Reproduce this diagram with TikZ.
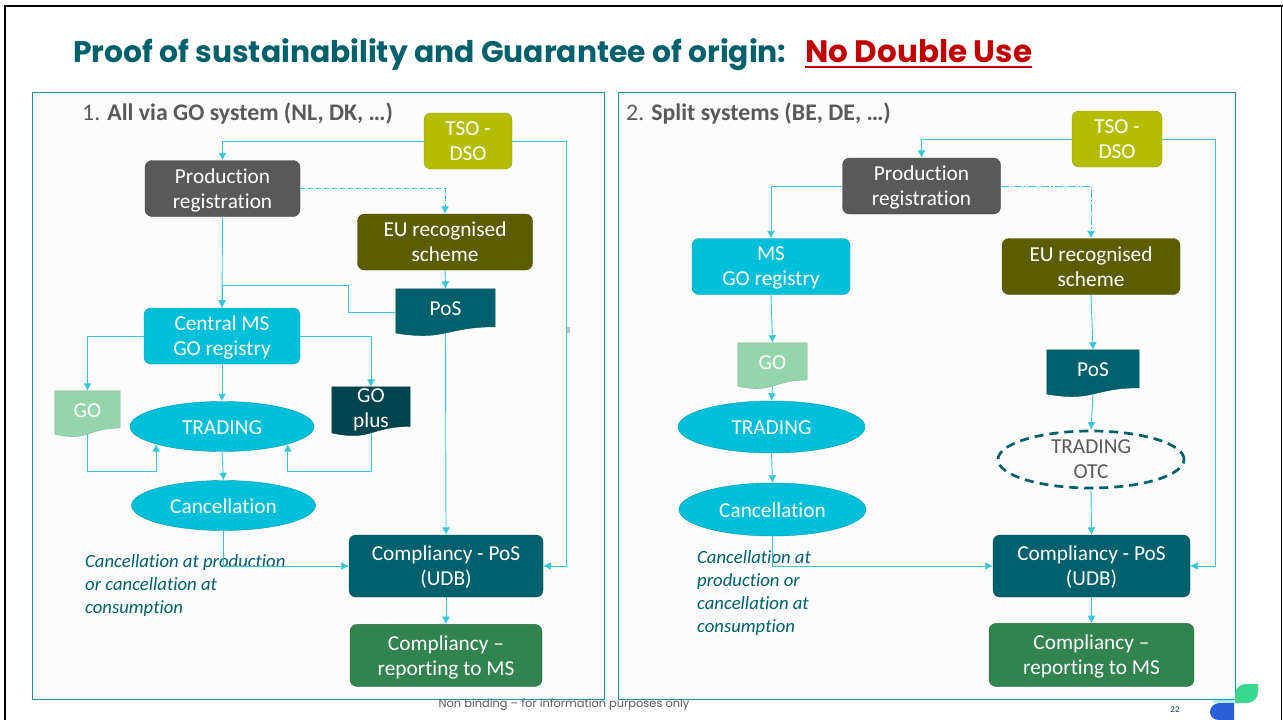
\documentclass[tikz,border=0pt]{standalone}
\usepackage{fontspec}
\setmainfont{Carlito}[Ligatures={TeX,NoCommon}]
\newfontfamily\titlefont{Poppins}
\usepackage{xcolor}
\usepackage{tikz}
\usetikzlibrary{arrows.meta, positioning, shapes.geometric}
\definecolor{wire}{HTML}{35C6DB}
\definecolor{tealdark}{HTML}{00606B}
\definecolor{cyanbox}{HTML}{00BFD8}
\definecolor{greybox}{HTML}{595959}
\definecolor{limebox}{HTML}{B5BD00}
\definecolor{olivebox}{HTML}{5C5C00}
\definecolor{mintsheet}{HTML}{94D5AB}
\definecolor{deepsheet}{HTML}{00444D}
\definecolor{greenbox}{HTML}{31834F}
\definecolor{panelline}{HTML}{1496A8}
\definecolor{titlered}{HTML}{C00000}
\definecolor{leafgreen}{HTML}{3AD78F}
\definecolor{leafblue}{HTML}{2B5FD9}

\makeatletter
\newdimen\sheetl \newdimen\sheetb \newdimen\sheetw \newdimen\sheeth
\pgfdeclareshape{docsheet}{
\inheritsavedanchors[from=rectangle]
\inheritanchorborder[from=rectangle]
\inheritanchor[from=rectangle]{center}
\inheritanchor[from=rectangle]{north}
\inheritanchor[from=rectangle]{south}
\inheritanchor[from=rectangle]{east}
\inheritanchor[from=rectangle]{west}
\anchor{text}{\pgfpoint{0pt}{3.5pt}}
\backgroundpath{
\southwest \sheetl=\pgf@x \sheetb=\pgf@y
\northeast \sheetw=\pgf@x \sheeth=\pgf@y
\advance\sheetw by -\sheetl \advance\sheeth by -\sheetb
\pgfpathmoveto{\pgfpoint{\sheetl}{\sheetb+\sheeth}}
\pgfpathlineto{\pgfpoint{\sheetl+\sheetw}{\sheetb+\sheeth}}
\pgfpathlineto{\pgfpoint{\sheetl+\sheetw}{\sheetb+0.198*\sheeth}}
\pgfpathcurveto{\pgfpoint{\sheetl+0.5*\sheetw}{\sheetb+0.198*\sheeth}}{\pgfpoint{\sheetl+0.5*\sheetw}{\sheetb-0.107*\sheeth}}{\pgfpoint{\sheetl}{\sheetb+0.066*\sheeth}}
\pgfpathclose}
}
\makeatother

\begin{document}
\begin{tikzpicture}[
x=1pt, y=-1pt,
box/.style={draw=#1!80!black,
fill=#1,
rectangle,
rounded corners=7pt,
minimum height=56pt,
inner sep=0pt,
text=white,
text depth=0pt,
font=\fontsize{21.3}{25}\selectfont,
align=center},
blob/.style={draw=cyanbox!80!black,
fill=cyanbox,
ellipse,
inner sep=0pt,
minimum height=50pt,
text=white,
text height=16pt,
font=\fontsize{21.3}{25}\selectfont,
align=center},
sheet/.style={draw=#1!85!black,
fill=#1,
shape=docsheet,
inner sep=0pt,
text=white,
font=\fontsize{21.3}{25}\selectfont,
align=center},
panel/.style={draw=panelline,
fill=white!99!black,
rectangle,
inner sep=0pt,
line width=1pt},
heading/.style={text=greybox, anchor=west, inner sep=0pt, font=\fontsize{23.8}{28}\selectfont},
note/.style={text=tealdark, anchor=north west, align=left, inner sep=0pt, font=\fontsize{18.7}{22.8}\selectfont\itshape},
banner/.style={anchor=base west, inner sep=0pt, font=\titlefont\bfseries\fontsize{#1}{34}\selectfont},
arrow/.style={-{Latex[length=7.5pt, width=8pt]}, draw=wire, line width=0.9pt}
]

\useasboundingbox (0,0) rectangle (1283,720);
\fill[white] (0,0) rectangle (1283,720);
\draw[line width=2pt] (5,720) -- (5,6) -- (1283,6);
\draw[line width=0.7pt] (1281,6) -- (1281,720);

\node[banner=29.8, text=tealdark] (title) at (73,62) {Proof of sustainability and Guarantee of origin:};
\node[banner=31, text=titlered] (nodouble) at (805,62) {No Double Use};
\draw[titlered, line width=2.2pt] ([yshift=-5pt]nodouble.base west) -- ([yshift=-5pt]nodouble.base east);

\node[panel, minimum width=572pt, minimum height=607pt] (panelA) at (318,395.5) {};
\node[panel, minimum width=617pt, minimum height=607pt] (panelB) at (926.5,395.5) {};

\node[heading] (headA) at (82,113.5) {1. \textbf{All via GO system (NL, DK, …)}};
\node[heading] (headB) at (626,113.5) {2. \textbf{Split systems (BE, DE, …)}};

\node[box=greybox, minimum width=155pt] (prodA) at (222.5,188.5) {Production\\registration};
\node[box=limebox, minimum width=88pt] (tsoA) at (468,141) {TSO -\\DSO};
\node[box=olivebox, minimum width=175pt] (euA) at (445,242) {EU recognised\\scheme};
\node[sheet=tealdark, minimum width=99pt, minimum height=47pt] (posA) at (445.5,312.5) {PoS};
\node[box=cyanbox, minimum width=156pt] (centralA) at (222,336) {Central MS\\GO registry};
\node[sheet=mintsheet, minimum width=65pt, minimum height=46pt] (goA) at (87.5,414) {GO};
\node[sheet=deepsheet, minimum width=78pt, minimum height=49pt, text depth=0pt] (goplusA) at (371,411.5) {GO\\plus};
\node[blob, minimum width=184pt] (tradA) at (222,426.5) {TRADING};
\node[blob, minimum width=184pt] (cancA) at (223.5,505.5) {Cancellation};
\node[box=tealdark, minimum width=194pt, minimum height=62pt] (compA) at (446,566) {Compliancy - PoS\\(UDB)};
\node[box=greenbox, minimum width=192pt, minimum height=62pt, below=27pt of compA] (repA) {Compliancy --\\reporting to MS};
\node[note] (noteA) at (85,554.5) {Cancellation at production\\or cancellation at\\consumption};

\coordinate (jogA) at (348,285);
\coordinate (railA) at (566.5,350);
\coordinate (loopgoA) at (87.5,471);
\coordinate (loopplusA) at (371,471);

\draw[arrow] (tsoA.west) -| (prodA.north);
\draw[arrow, dash pattern=on 5pt off 3pt] (prodA.east) -| (euA.north);
\draw[arrow] (prodA.south) -- (centralA.north);
\draw[arrow] (euA.south) -- (posA.north);
\draw[arrow] (posA.west) -| (jogA) -| (centralA.north);
\draw[arrow] (centralA.west) -| (goA.north);
\draw[arrow] (centralA.east) -| (goplusA.north);
\draw[arrow] (centralA.south) -- (tradA.north);
\draw[arrow] ([yshift=3pt]goA.south) -- (loopgoA) -| (tradA.195);
\draw[arrow] ([yshift=3pt]goplusA.south) -- (loopplusA) -| (tradA.345);
\draw[arrow] (tradA.south) -- (cancA.north);
\draw[arrow] (cancA.south) |- (compA.west);
\draw[arrow] ([yshift=3pt]posA.south) -- (compA.north);
\draw[arrow] (tsoA.east) -| (railA) |- (compA.east);
\draw[arrow] (compA.south) -- (repA.north);
\fill[black!25] (567,327) rectangle (570,333);

\node[box=greybox, minimum width=158pt] (prodB) at (921.5,186) {Production\\registration};
\node[box=limebox, minimum width=90pt] (tsoB) at (1117,139) {TSO -\\DSO};
\node[box=cyanbox, minimum width=158pt] (msB) at (771,266.5) {MS\\GO registry};
\node[box=olivebox, minimum width=178pt] (euB) at (1091,266.5) {EU recognised\\scheme};
\node[sheet=mintsheet, minimum width=69pt, minimum height=46pt] (goB) at (772.5,366) {GO};
\node[sheet=tealdark, minimum width=92pt, minimum height=47pt] (posB) at (1093,373.5) {PoS};
\node[blob, minimum width=187pt, minimum height=52pt] (tradB) at (771.5,427) {TRADING};
\node[blob, minimum width=187pt, minimum height=53pt] (cancB) at (772.5,509.5) {Cancellation};
\node[draw=tealdark, ellipse, line width=2.7pt, dash pattern=on 9pt off 6pt, minimum width=186pt, minimum height=57pt, inner sep=0pt, align=center, text=greybox, text depth=0pt, font=\fontsize{21.3}{25}\selectfont] (otcB) at (1091,459.5) {TRADING\\OTC};
\node[box=tealdark, minimum width=197pt, minimum height=62pt] (compB) at (1091.5,566) {Compliancy - PoS\\(UDB)};
\node[box=greenbox, minimum width=205pt, minimum height=63pt, below=26pt of compB] (repB) {Compliancy --\\reporting to MS};
\node[note] (noteB) at (697,550.5) {Cancellation at\\production or\\cancellation at\\consumption};

\coordinate (railB) at (1215,350);

\draw[arrow] (tsoB.west) -| (prodB.north);
\draw[arrow] (prodB.west) -| (msB.north);
\draw[arrow, dash pattern=on 8pt off 2pt on 1.5pt off 2pt] (prodB.east) -| (euB.north);
\draw[arrow] (msB.south) -- (goB.north);
\draw[arrow] (euB.south) -- (posB.north);
\draw[arrow] ([yshift=3pt]goB.south) -- (tradB.north);
\draw[arrow] (tradB.south) -- (cancB.north);
\draw[arrow] ([yshift=3pt]posB.south) -- (otcB.north);
\draw[arrow] (otcB.south) -- (compB.north);
\draw[arrow] (cancB.south) |- (compB.west);
\draw[arrow] (tsoB.east) -| (railB) |- (compB.east);
\draw[arrow] (compB.south) -- (repB.north);

\node[inner sep=0pt, text=greybox, font=\titlefont\fontsize{11.4}{12}\selectfont] (footer) at (564,705) {Non binding – for information purposes only};
\node[inner sep=0pt, text=deepsheet, font=\fontsize{9}{10}\selectfont] (pagenum) at (1175,710) {22};

\fill[wire!40] (1213,700) rectangle (1234,703);
\fill[leafgreen] (1235,703) -- (1235,695) .. controls (1235,688) and (1240,684) .. (1246,684) -- (1258,684) -- (1258,692) .. controls (1258,698) and (1253,703) .. (1247,703) -- cycle;
\fill[leafblue] (1234,703) -- (1220,703) .. controls (1214,703) and (1210,707) .. (1210,712) .. controls (1210,717) and (1214,720) .. (1219,720) -- (1234,720) -- cycle;

\end{tikzpicture}
\end{document}
